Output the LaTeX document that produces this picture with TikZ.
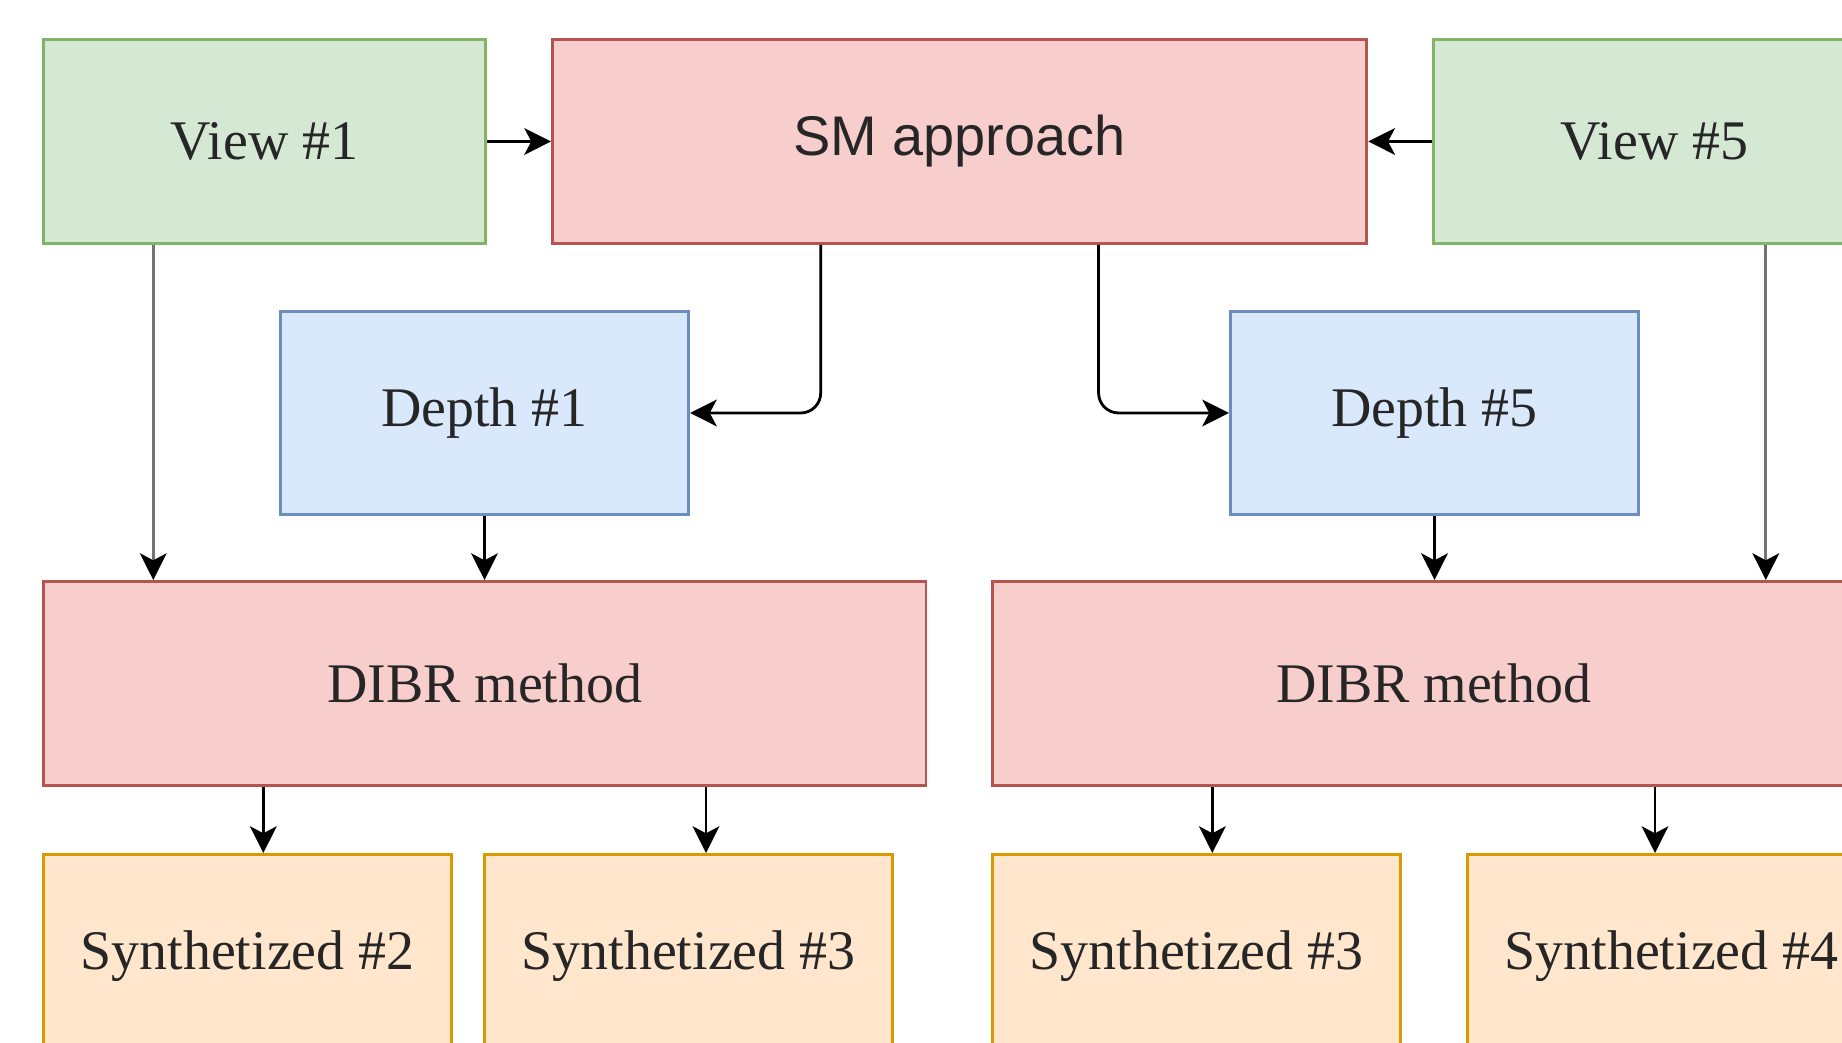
\documentclass[tikz,border=0pt]{standalone}
\usepackage{fontspec}
\setmainfont{Liberation Serif}
\newfontfamily\smfont{Liberation Sans}
\usetikzlibrary{arrows.meta,calc}

\definecolor{viewfill}{HTML}{D5E8D4}
\definecolor{viewline}{HTML}{82B366}
\definecolor{procfill}{HTML}{F8CECC}
\definecolor{procline}{HTML}{B85450}
\definecolor{depthfill}{HTML}{DAE8FC}
\definecolor{depthline}{HTML}{6C8EBF}
\definecolor{synfill}{HTML}{FFE6CC}
\definecolor{synline}{HTML}{D79B00}

\tikzset{
  block/.style={draw, rectangle, line width=0.8pt, inner sep=0pt, anchor=north west,
    font=\fontsize{15.9}{19}\selectfont, text=black!85},
  viewbox/.style={block, fill=viewfill, draw=viewline, minimum width=4.42cm, minimum height=2.04cm},
  procbox/.style={block, fill=procfill, draw=procline, minimum height=2.04cm},
  depthbox/.style={block, fill=depthfill, draw=depthline, minimum width=4.08cm, minimum height=2.03cm},
  synbox/.style={block, fill=synfill, draw=synline, minimum width=4.08cm, minimum height=2.04cm},
  conn/.style={line width=0.8pt, -{Stealth[length=7.6pt, width=7.6pt, inset=2pt, color=black]}},
  longconn/.style={conn, draw=black!55},
}

\begin{document}
\begin{tikzpicture}[x=0.01cm, y=-0.01cm]
\useasboundingbox (0,0) rectangle (1842,1042);
\clip (0,0) rectangle (1842,1042);

% top row: input views and the stereo matching stage
\node[viewbox] (v1) at (42,38) {View \#1};
\node[procbox, minimum width=8.14cm, font=\smfont\fontsize{15.9}{19}\selectfont] (sm) at (551,38) {SM approach};
\node[viewbox] (v5) at (1432,38) {View \#5};

% estimated depth maps
\node[depthbox] (d1) at (279,310) {Depth \#1};
\node[depthbox] (d5) at (1229,310) {Depth \#5};

% view synthesis
\node[procbox, minimum width=8.82cm] (rl) at (42,580) {DIBR method};
\node[procbox, minimum width=8.82cm] (rr) at (991,580) {DIBR method};

% synthesized views
\node[synbox] (s2) at (42,853) {Synthetized \#2};
\node[synbox] (s3a) at (483,853) {Synthetized \#3};
\node[synbox] (s3b) at (991,853) {Synthetized \#3};
\node[synbox] (s4) at (1466,853) {Synthetized \#4};

% views feed the SM stage
\draw[conn] (v1.east) -- (sm.west);
\draw[conn] (v5.west) -- (sm.east);

% SM stage produces the depth maps
\coordinate (smA) at ($(sm.south west)!0.33!(sm.south east)$);
\coordinate (smB) at ($(sm.south west)!0.67!(sm.south east)$);
\draw[conn, rounded corners=0.2cm] (smA) |- (d1.east);
\draw[conn, rounded corners=0.2cm] (smB) |- (d5.west);

% views and depths into the DIBR blocks
\coordinate (v1q) at ($(v1.south west)!0.25!(v1.south east)$);
\coordinate (v5q) at ($(v5.south west)!0.75!(v5.south east)$);
\draw[longconn] (v1q) -- (v1q |- rl.north);
\draw[longconn] (v5q) -- (v5q |- rr.north);
\draw[conn] (d1.south) -- (d1.south |- rl.north);
\draw[conn] (d5.south) -- (d5.south |- rr.north);

% DIBR outputs
\coordinate (rlA) at ($(rl.south west)!0.25!(rl.south east)$);
\coordinate (rlB) at ($(rl.south west)!0.75!(rl.south east)$);
\coordinate (rrA) at ($(rr.south west)!0.25!(rr.south east)$);
\coordinate (rrB) at ($(rr.south west)!0.75!(rr.south east)$);
\draw[conn] (rlA) -- (rlA |- s2.north);
\draw[conn] (rlB) -- (rlB |- s3a.north);
\draw[conn] (rrA) -- (rrA |- s3b.north);
\draw[conn] (rrB) -- (rrB |- s4.north);
\end{tikzpicture}
\end{document}
